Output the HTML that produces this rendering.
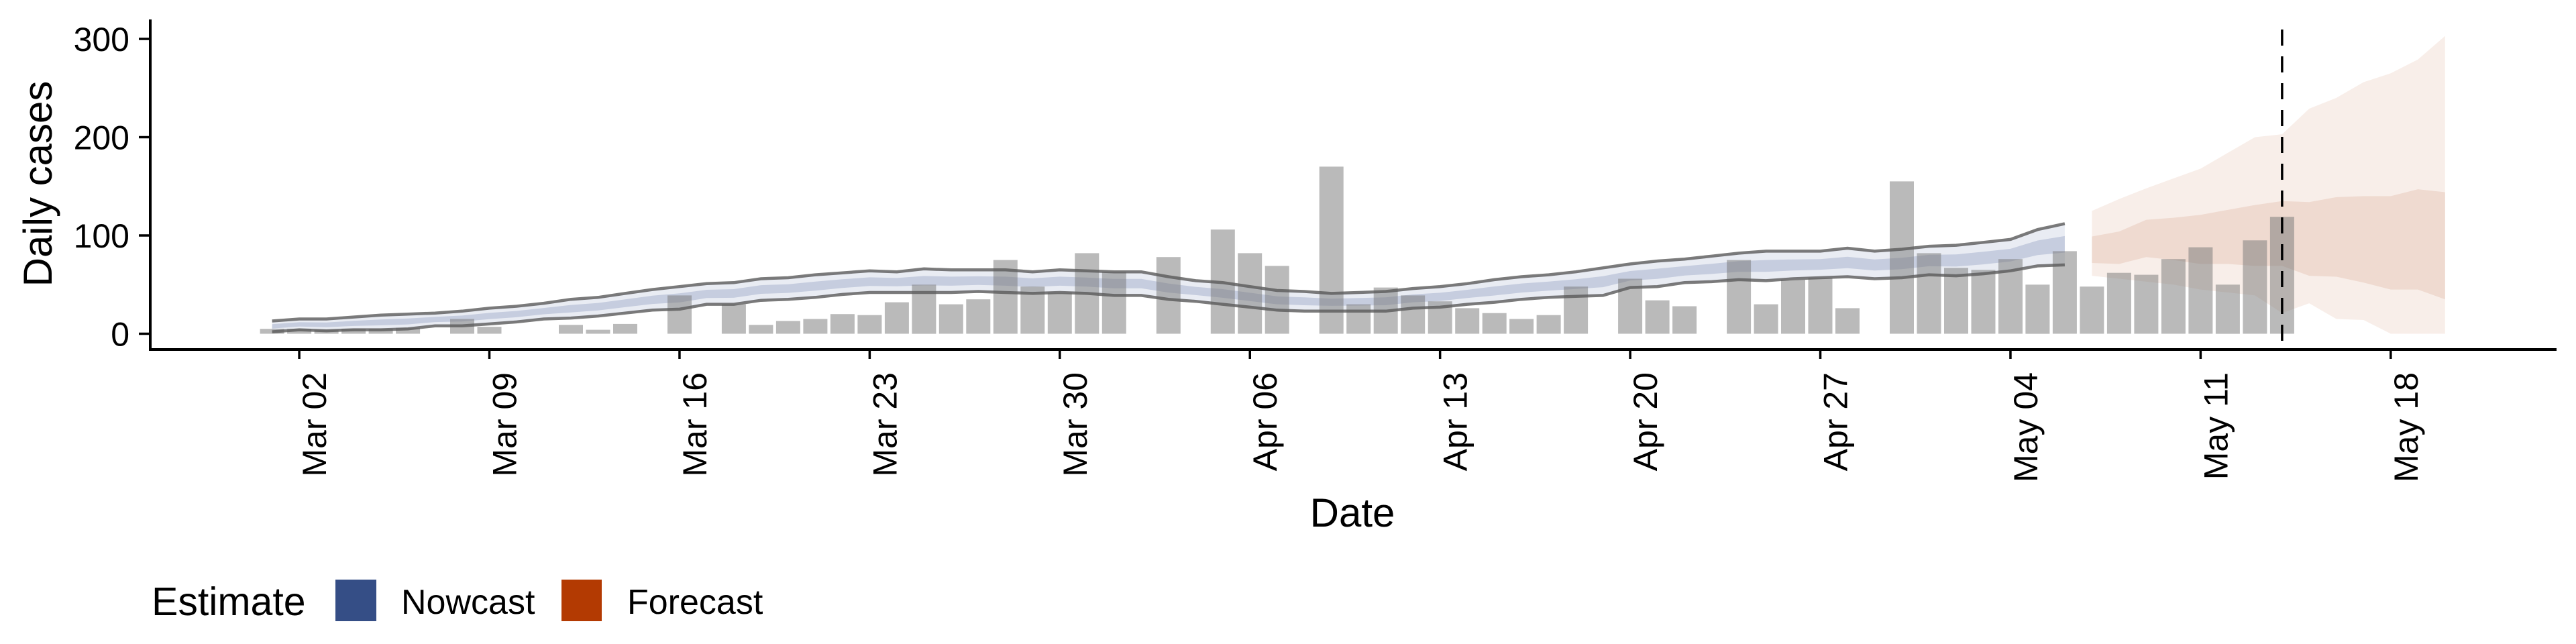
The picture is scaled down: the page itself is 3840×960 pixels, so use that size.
<!DOCTYPE html>
<html><head><meta charset="utf-8"><style>
html,body{margin:0;padding:0;background:#fff;}
svg{display:block;font-family:"Liberation Sans",sans-serif;}
</style></head><body>
<svg id="chart" width="3840" height="960" viewBox="0 0 3840 960" xmlns="http://www.w3.org/2000/svg"></svg>
<script>
// ---- data ----
const barCases = [5,5,4,5,5,6,0,15,7,0,0,9,4,10,0,39,0,30,9,13,15,20,19,32,50,30,35,75,48,42,82,
 63,0,78,0,106,82,69,0,170,30,47,39,33,26,21,15,19,48,0,56,34,28,0,75,30,55,57,26,0,155,
 82,67,65,76,50,84,48,62,60,76,88,50,95,119];
const nowUpper90 = [13,15,15,17,19,20,21,23,26,28,31,35,37,41,45,48,51,52,56,57,60,62,64,
 63,66,65,65,65,63,65,64,
 63,63,58,54,52,48,44,43,41,42,43,46,48,51,55,58,60,63,67,71,74,76,79,82,
 84,84,84,87,84,86,89,90,93,96,106,112];
const nowLower90 = [2,4,3,4,4,5,8,8,10,12,15,16,18,21,24,25,30,30,34,35,37,40,42,
 42,42,42,43,42,41,42,41,
 39,39,35,33,30,27,24,23,23,23,23,26,27,30,32,35,37,38,39,47,48,52,53,55,
 54,56,57,58,56,57,60,59,61,64,69,70];
const fcStartDay = 67; // May 07
const fcUpper90 = [125,137,148,158,168,184,200,203,229,240,256,265,279,303];
const fcLower90 = [59,56,53,50,45,42,39,21,31,15,14,0,0,0];
const fcUpper50 = [99,104,116,118,121,126,131,135,134,139,140,140,147,144];
const fcLower50 = [72,71,78,75,71,71,69,69,59,58,52,45,45,35];
const yTicks = [0,100,200,300];
const xTickLabels = ["Mar 02","Mar 09","Mar 16","Mar 23","Mar 30","Apr 06","Apr 13","Apr 20","Apr 27","May 04","May 11","May 18"];
const xTickDays = [1,8,15,22,29,36,43,50,57,64,71,78];
const dashedDay = 74; // May 14

// ---- scales ----
const X0 = 405.6, DX = 40.49;
const xs = d => X0 + d*DX;
const ys = v => 497.5 - v*1.465;
const NS = "http://www.w3.org/2000/svg";
const svg = document.getElementById('chart');
function mk(tag, attrs, parent){
  const e = document.createElementNS(NS, tag);
  for (const k in attrs) e.setAttribute(k, attrs[k]);
  (parent||svg).appendChild(e);
  return e;
}
function bandPath(start, up, lo){
  let d = "";
  up.forEach((v,i)=>{ d += (i?"L":"M") + xs(start+i).toFixed(1) + "," + ys(v).toFixed(1); });
  for (let i=lo.length-1;i>=0;i--) d += "L" + xs(start+i).toFixed(1) + "," + ys(lo[i]).toFixed(1);
  return d + "Z";
}
function linePath(start, arr){
  return arr.map((v,i)=>(i?"L":"M")+xs(start+i).toFixed(1)+","+ys(v).toFixed(1)).join("");
}

// forecast ribbons
let el = mk('path',{d:bandPath(fcStartDay,fcUpper90,fcLower90),fill:'#f8eee9'});


el = mk('path',{d:bandPath(fcStartDay,fcUpper50,fcLower50),fill:'#efdad0'});



// nowcast ribbons
el = mk('path',{d:bandPath(0,nowUpper90,nowLower90),fill:'#e9ecf3'});


const in50u = nowUpper90.map((u,i)=>nowLower90[i]+0.7*(u-nowLower90[i]));
const in50l = nowUpper90.map((u,i)=>nowLower90[i]+0.3*(u-nowLower90[i]));
el = mk('path',{d:bandPath(0,in50u,in50l),fill:'#c6cddf'});



// bars
barCases.forEach((v,i)=>{
  if (v<=0) return;
  const b = mk('rect',{x:(xs(i)-18).toFixed(1),y:ys(v).toFixed(1),width:36,height:(ys(0)-ys(v)).toFixed(1),fill:'rgba(118,118,118,0.5)'});
  
  
});

// nowcast bound lines
el = mk('path',{d:linePath(0,nowUpper90),fill:'none',stroke:'rgba(90,90,90,0.8)','stroke-width':4.5});


el = mk('path',{d:linePath(0,nowLower90),fill:'none',stroke:'rgba(90,90,90,0.8)','stroke-width':4.5});



// dashed line
el = mk('line',{x1:xs(dashedDay),x2:xs(dashedDay),y1:44,y2:521,stroke:'#000','stroke-width':3.5,'stroke-dasharray':'24,16'});



// axes
el = mk('line',{x1:224,x2:224,y1:29,y2:523,stroke:'#000','stroke-width':4});


el = mk('line',{x1:222,x2:3811,y1:521,y2:521,stroke:'#000','stroke-width':4});



yTicks.forEach(t=>{
  const tk = mk('line',{x1:207,x2:224,y1:ys(t),y2:ys(t),stroke:'#000','stroke-width':3.5});
  
  
  const tl = mk('text',{x:193,y:ys(t)+18,'text-anchor':'end','font-size':50,fill:'#000'});
  tl.textContent = t;
  
  
});
xTickDays.forEach((d,i)=>{
  const x = xs(d);
  const tk = mk('line',{x1:x,x2:x,y1:521,y2:535,stroke:'#000','stroke-width':3.5});
  
  
  const tl = mk('text',{transform:`translate(${x.toFixed(1)},555) rotate(-90)`,x:0,y:40,'text-anchor':'end','font-size':50,fill:'#000'});
  tl.textContent = xTickLabels[i];
  
  
});

// titles
el = mk('text',{transform:'translate(77,274) rotate(-90)','text-anchor':'middle','font-size':60,fill:'#000'});
el.textContent = 'Daily cases';


el = mk('text',{x:2016,y:785,'text-anchor':'middle','font-size':60,fill:'#000'});
el.textContent = 'Date';



// legend
const lg = mk('g',{});


el = mk('text',{x:226,y:917,'font-size':59,fill:'#000'},lg);
el.textContent = 'Estimate';


el = mk('rect',{x:500,y:864,width:61,height:62,fill:'#354e86'},lg);


el = mk('text',{x:598,y:915,'font-size':52,fill:'#000'},lg);
el.textContent = 'Nowcast';


el = mk('rect',{x:837,y:864,width:60,height:62,fill:'#b33a02'},lg);


el = mk('text',{x:935,y:915,'font-size':52,fill:'#000'},lg);
el.textContent = 'Forecast';


</script>
</body></html>
